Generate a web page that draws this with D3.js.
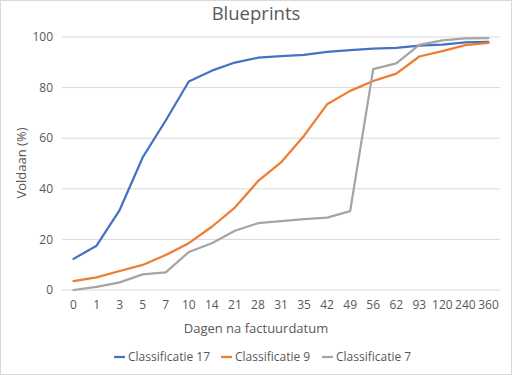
<!DOCTYPE html>
<html lang="nl">
<head>
    <meta charset="UTF-8">
    <title>Blueprints</title>
    <script src="https://d3js.org/d3.v7.min.js"></script>
    <style>
        body { margin: 0; background: #fff; font-family: "Open Sans", Arial, sans-serif; }
        text { fill: #595959; }
    </style>
</head>
<body>
    <script>
        // data
        const days = ["0", "1", "3", "5", "7", "10", "14", "21", "28", "31", "35", "42", "49", "56", "62", "93", "120", "240", "360"];
        const klasse17 = [12.3, 17.5, 31.6, 52.4, 67, 82.4, 86.7, 89.9, 91.8, 92.4, 92.9, 94.1, 94.8, 95.4, 95.7, 96.6, 97.0, 97.9, 98.1];
        const klasse9 = [3.5, 5, 7.5, 9.9, 13.8, 18.5, 25, 32.6, 43, 50.4, 61, 73.4, 78.7, 82.6, 85.5, 92.3, 94.4, 96.8, 97.7];
        const klasse7 = [0, 1.2, 3, 6.2, 7, 15, 18.5, 23.4, 26.4, 27.2, 28, 28.6, 31.2, 87.3, 89.6, 96.9, 98.7, 99.5, 99.6];
        const yTicks = [0, 20, 40, 60, 80, 100];

        const series = [
            { name: "Classificatie 17", values: klasse17, color: "#4472C4" },
            { name: "Classificatie 9", values: klasse9, color: "#ED7D31" },
            { name: "Classificatie 7", values: klasse7, color: "#A5A5A5" }
        ];

        const width = 512, height = 375;
        const plotLeft = 62, plotRight = 500, plotTop = 37, plotBottom = 290;

        const svg = d3.select("body").append("svg")
            .attr("width", width)
            .attr("height", height);

        svg.append("rect")
            .attr("x", 0.5).attr("y", 0.5)
            .attr("width", width - 1).attr("height", height - 1)
            .attr("fill", "#fff").attr("stroke", "#d9d9d9");

        const x = d3.scalePoint().domain(days).range([plotLeft, plotRight]).padding(0.5);
        const y = d3.scaleLinear().domain([0, 100]).range([plotBottom, plotTop]);

        // grid
        svg.append("g").selectAll("line")
            .data(yTicks)
            .enter().append("line")
            .attr("x1", plotLeft).attr("x2", plotRight)
            .attr("y1", d => y(d)).attr("y2", d => y(d))
            .attr("stroke", "#d9d9d9").attr("stroke-width", 1);

        // y tick labels
        svg.append("g").selectAll("text")
            .data(yTicks)
            .enter().append("text")
            .attr("x", 53)
            .attr("y", d => y(d))
            .attr("dy", "0.35em")
            .attr("text-anchor", "end")
            .style("font-size", "12px")
            .text(d => d);

        // x tick labels
        svg.append("g").selectAll("text")
            .data(days)
            .enter().append("text")
            .attr("x", d => x(d))
            .attr("y", 305)
            .attr("dy", "0.35em")
            .attr("text-anchor", "middle")
            .style("font-size", "12px")
            .text(d => d);

        const line = d3.line()
            .x((d, i) => x(days[i]))
            .y(d => y(d));

        svg.append("g").selectAll("path")
            .data(series)
            .enter().append("path")
            .attr("d", d => line(d.values))
            .attr("fill", "none")
            .attr("stroke", d => d.color)
            .attr("stroke-width", 2.25)
            .attr("stroke-linejoin", "round")
            .attr("stroke-linecap", "round");

        // titles
        svg.append("text")
            .attr("x", 256).attr("y", 14)
            .attr("dy", "0.35em")
            .attr("text-anchor", "middle")
            .style("font-size", "18.5px")
            .text("Blueprints");

        svg.append("text")
            .attr("x", 256).attr("y", 328)
            .attr("dy", "0.35em")
            .attr("text-anchor", "middle")
            .style("font-size", "13px")
            .text("Dagen na factuurdatum");

        svg.append("text")
            .attr("transform", "translate(21,163) rotate(-90)")
            .attr("dy", "0.35em")
            .attr("text-anchor", "middle")
            .style("font-size", "13px")
            .text("Voldaan (%)");

        // legend
        const legendX = [114, 221, 322];
        const legend = svg.append("g").selectAll("g")
            .data(series)
            .enter().append("g")
            .attr("transform", (d, i) => `translate(${legendX[i]}, 357)`);
        legend.append("line")
            .attr("x1", 0).attr("x2", 11)
            .attr("stroke", d => d.color)
            .attr("stroke-width", 2.25);
        legend.append("text")
            .attr("x", 14)
            .attr("dy", "0.35em")
            .style("font-size", "12px")
            .text(d => d.name);
    </script>
</body>
</html>
